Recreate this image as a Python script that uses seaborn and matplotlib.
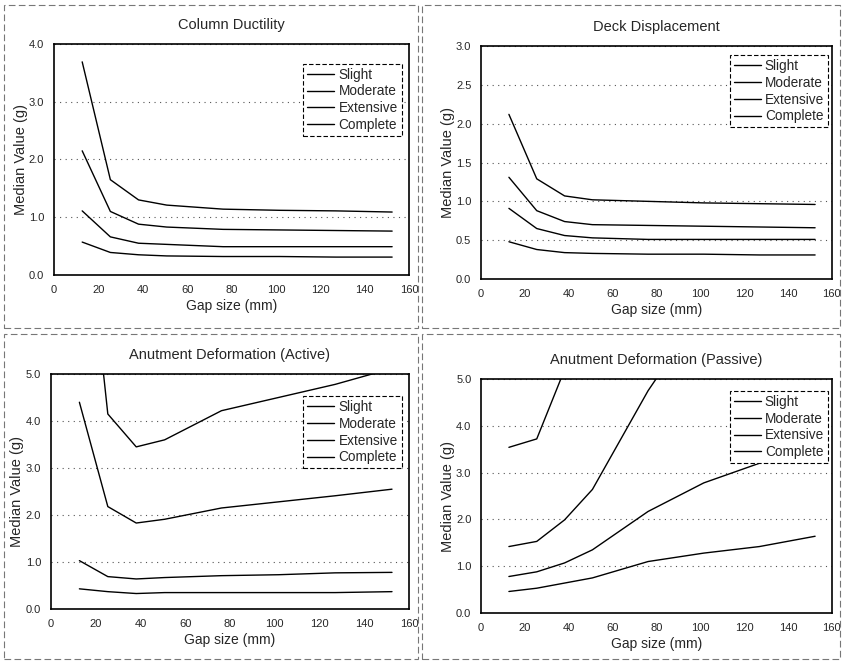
import seaborn as sns
import matplotlib.pyplot as plt
import matplotlib.patches as mpatches
import numpy as np
import pandas as pd

# Gap sizes (mm)
gap = [12.7, 25.4, 38.1, 50.8, 76.2, 101.6, 127.0, 152.4]
levels = ['Slight', 'Moderate', 'Extensive', 'Complete']

# Column Ductility
col_slight = [0.57, 0.39, 0.35, 0.33, 0.32, 0.32, 0.31, 0.31]
col_moderate = [1.11, 0.66, 0.55, 0.53, 0.49, 0.49, 0.49, 0.49]
col_extensive = [2.15, 1.10, 0.88, 0.83, 0.79, 0.78, 0.77, 0.76]
col_complete = [3.69, 1.65, 1.30, 1.21, 1.14, 1.12, 1.11, 1.09]

# Deck Displacement
deck_slight = [0.48, 0.38, 0.34, 0.33, 0.32, 0.32, 0.31, 0.31]
deck_moderate = [0.91, 0.65, 0.56, 0.53, 0.51, 0.51, 0.51, 0.51]
deck_extensive = [1.31, 0.88, 0.74, 0.70, 0.69, 0.68, 0.67, 0.66]
deck_complete = [2.12, 1.29, 1.07, 1.02, 1.00, 0.98, 0.97, 0.96]

# Abutment Deformation (Active)
act_slight = [0.43, 0.37, 0.33, 0.35, 0.35, 0.35, 0.35, 0.37]
act_moderate = [1.03, 0.69, 0.64, 0.67, 0.71, 0.73, 0.77, 0.78]
act_extensive = [4.40, 2.18, 1.83, 1.91, 2.15, 2.28, 2.41, 2.55]
act_complete = [9.8, 4.15, 3.45, 3.60, 4.22, 4.50, 4.78, 5.12]

# Abutment Deformation (Passive)
pas_slight = [0.46, 0.53, 0.64, 0.75, 1.10, 1.28, 1.42, 1.64]
pas_moderate = [0.78, 0.88, 1.07, 1.35, 2.17, 2.78, 3.20, 3.75]
pas_extensive = [1.42, 1.53, 1.99, 2.64, 4.75, 6.50, 8.20, 9.90]
pas_complete = [3.54, 3.72, 5.20, 7.00, 10.5, 14.0, 17.5, 21.0]


def make_df(s, m, e, c):
    rows = []
    for lvl, vals in zip(levels, [s, m, e, c]):
        for g, v in zip(gap, vals):
            rows.append({'Gap': g, 'Value': v, 'Level': lvl})
    return pd.DataFrame(rows)


sns.set_theme(style='white')
plt.rcParams['font.family'] = ['Liberation Sans', 'DejaVu Sans']

fig = plt.figure(figsize=(8.44, 6.62), dpi=100)

panels = [
    ('Column Ductility', make_df(col_slight, col_moderate, col_extensive, col_complete),
     [0.064, 0.5846, 0.4206, 0.349], 4.0, 1.0, (0.98, 0.915)),
    ('Deck Displacement', make_df(deck_slight, deck_moderate, deck_extensive, deck_complete),
     [0.570, 0.5785, 0.4155, 0.352], 3.0, 0.5, (0.99, 0.961)),
    ('Anutment Deformation (Active)', make_df(act_slight, act_moderate, act_extensive, act_complete),
     [0.0604, 0.080, 0.4242, 0.355], 5.0, 1.0, (0.98, 0.906)),
    ('Anutment Deformation (Passive)', make_df(pas_slight, pas_moderate, pas_extensive, pas_complete),
     [0.570, 0.074, 0.4155, 0.3535], 5.0, 1.0, (0.99, 0.949)),
]

black = {lvl: 'black' for lvl in levels}

for title, df, rect, ymax, ystep, leg_anchor in panels:
    ax = fig.add_axes(rect)
    sns.lineplot(data=df, x='Gap', y='Value', hue='Level', hue_order=levels,
                 palette=black, linewidth=1.0, ax=ax)
    ax.set_xlim(0, 160)
    ax.set_ylim(0, ymax)
    ax.set_xticks(np.arange(0, 161, 20))
    ax.set_yticks(np.arange(0, ymax + 0.001, ystep))
    ax.set_yticklabels([f'{v:.1f}' for v in np.arange(0, ymax + 0.001, ystep)])
    ax.yaxis.grid(True, linestyle=(0, (1, 4)), color='#555555', linewidth=0.8)
    ax.set_title(title, fontsize=10.5, pad=11)
    ax.set_xlabel('Gap size (mm)', fontsize=10, labelpad=3)
    ax.set_ylabel('Median Value (g)', fontsize=10.5, labelpad=1)
    ax.tick_params(axis='both', labelsize=8, length=3, width=0.8, color='black',
                   direction='in', pad=7)
    for sp in ax.spines.values():
        sp.set_color('black')
        sp.set_linewidth(1.2)
    leg = ax.legend(loc='upper right', bbox_to_anchor=leg_anchor, fontsize=9.8,
                    frameon=True, fancybox=False, handlelength=2.0,
                    borderpad=0.3, labelspacing=0.2, handletextpad=0.3,
                    borderaxespad=0.0)
    leg.get_frame().set_edgecolor('black')
    leg.get_frame().set_linewidth(0.8)
    leg.get_frame().set_linestyle((0, (4, 2)))
    leg.get_frame().set_alpha(1.0)

# dashed borders of the chart panels
for (x0, y0, w, h) in [(0.005, 0.505, 0.49, 0.488), (0.500, 0.505, 0.495, 0.488),
                       (0.005, 0.005, 0.49, 0.49), (0.500, 0.005, 0.495, 0.49)]:
    fig.patches.append(mpatches.Rectangle((x0, y0), w, h, transform=fig.transFigure,
                                          fill=False, edgecolor='#777777',
                                          linewidth=0.8, linestyle=(0, (6, 3))))

fig.savefig('out.png', dpi=100)
